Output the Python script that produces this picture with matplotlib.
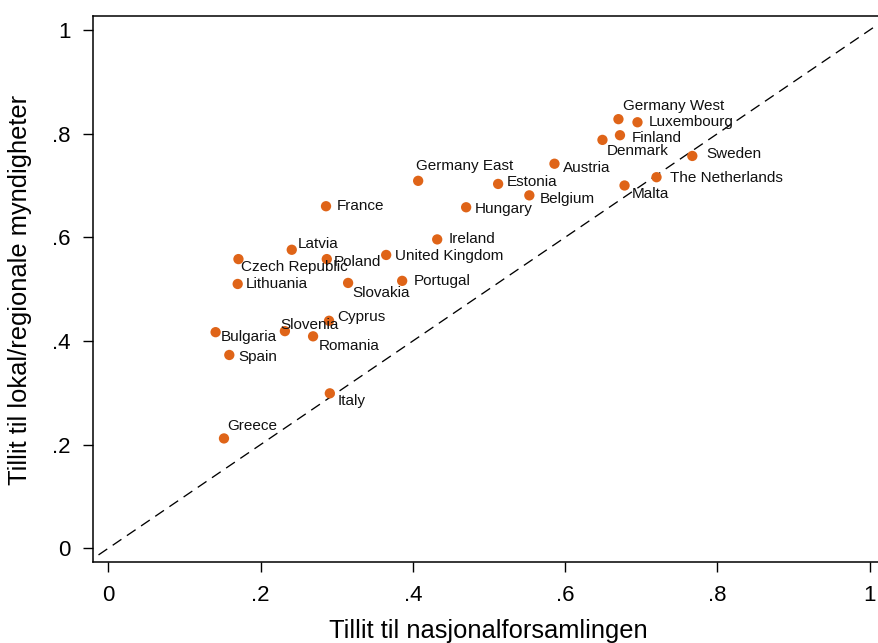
import matplotlib.pyplot as plt

plt.rcParams['font.family'] = ['Liberation Sans', 'DejaVu Sans']

countries = ['Germany West', 'Luxembourg', 'Finland', 'Denmark', 'Sweden', 'The Netherlands',
             'Malta', 'Austria', 'Germany East', 'Estonia', 'Belgium', 'Hungary', 'France',
             'Ireland', 'Latvia', 'Czech Republic', 'Poland', 'United Kingdom', 'Lithuania',
             'Slovakia', 'Portugal', 'Cyprus', 'Slovenia', 'Bulgaria', 'Romania', 'Spain',
             'Italy', 'Greece']
nasjonal = [0.670, 0.695, 0.672, 0.649, 0.767, 0.720, 0.678, 0.586, 0.407, 0.512, 0.553,
            0.470, 0.286, 0.432, 0.241, 0.171, 0.287, 0.365, 0.170, 0.315, 0.386, 0.290,
            0.232, 0.141, 0.269, 0.159, 0.291, 0.152]
lokal = [0.828, 0.822, 0.797, 0.788, 0.757, 0.716, 0.700, 0.742, 0.709, 0.703, 0.681,
         0.658, 0.660, 0.596, 0.576, 0.558, 0.558, 0.566, 0.510, 0.512, 0.516, 0.439,
         0.419, 0.417, 0.409, 0.373, 0.299, 0.212]

ticks = [0, 0.2, 0.4, 0.6, 0.8, 1]
tick_labels = ['0', '.2', '.4', '.6', '.8', '1']

# label offsets in pixels (dx right, dy up), default is to the right
offsets = {
    'Germany West': (5, 13), 'Luxembourg': (11, 0), 'Finland': (12, -3),
    'Denmark': (4, -11), 'Sweden': (14, 2), 'The Netherlands': (13, -1),
    'Malta': (7, -9), 'Austria': (8, -4), 'Germany East': (-2, 15),
    'Estonia': (9, 2), 'Belgium': (10, -4), 'Hungary': (9, -2), 'France': (11, 0),
    'Ireland': (11, 0), 'Latvia': (6, 6), 'Czech Republic': (3, -8),
    'Poland': (7, -3), 'United Kingdom': (9, -1), 'Lithuania': (8, 0),
    'Slovakia': (4, -10), 'Portugal': (12, 0), 'Cyprus': (8, 4),
    'Slovenia': (-5, 6), 'Bulgaria': (5, -5), 'Romania': (6, -10),
    'Spain': (9, -2), 'Italy': (8, -8), 'Greece': (3, 12),
}

fig = plt.figure(figsize=(8.79, 6.43), dpi=100)
ax = fig.add_axes([0.1058, 0.1255, 0.901, 0.8496])

ax.plot([-0.05, 1.05], [-0.05, 1.05], color='black', linestyle=(0, (8, 5)), linewidth=0.95,
        zorder=1)
ax.scatter(nasjonal, lokal, s=55, color='#DF6418', edgecolors='none', zorder=3)

for name, xv, yv in zip(countries, nasjonal, lokal):
    dx, dy = offsets.get(name, (8, 0))
    ax.annotate(name, (xv, yv), xytext=(dx, dy), textcoords='offset pixels',
                fontsize=11, va='center', ha='left', color='#111111')

ax.set_xlim(-0.02, 1.02)
ax.set_ylim(-0.027, 1.027)
ax.set_xticks(ticks)
ax.set_xticklabels(tick_labels)
ax.set_yticks(ticks)
ax.set_yticklabels(tick_labels)
ax.tick_params(axis='both', labelsize=16, length=7, width=1, pad=9, direction='out')
ax.spines['right'].set_visible(False)
for s in ['left', 'top', 'bottom']:
    ax.spines[s].set_linewidth(1.1)

ax.set_xlabel('Tillit til nasjonalforsamlingen', fontsize=18.4, va='center')
ax.set_ylabel('Tillit til lokal/regionale myndigheter', fontsize=18.4, va='center')
ax.xaxis.set_label_coords(0.4987, -0.126)
ax.yaxis.set_label_coords(-0.092, 0.499)

fig.savefig('out.png', dpi=100)
